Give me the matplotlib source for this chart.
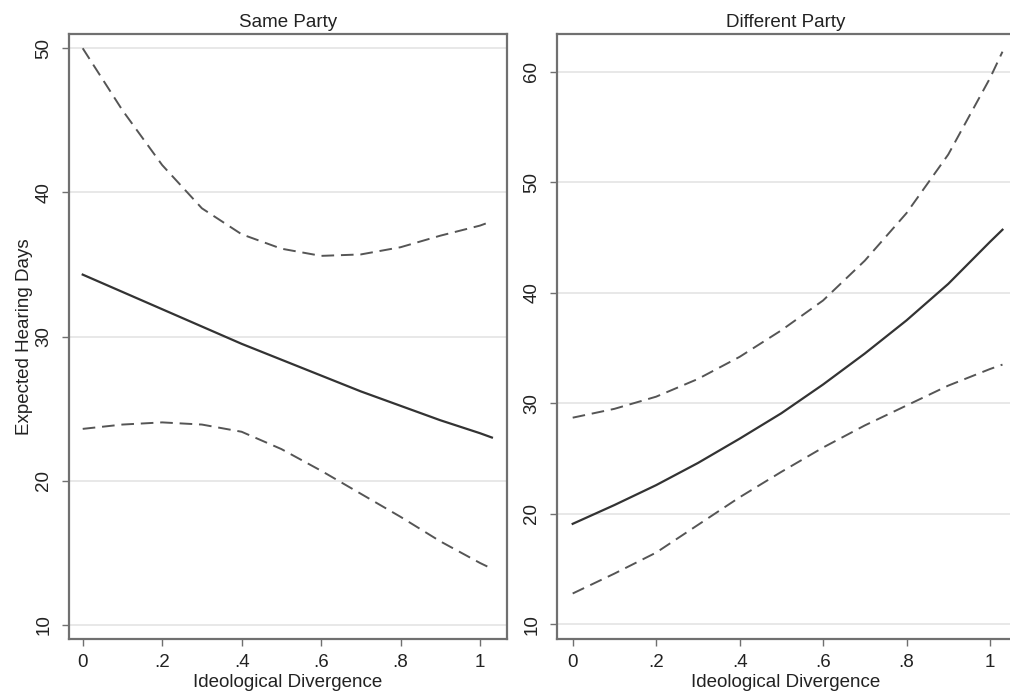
import matplotlib
matplotlib.use('Agg')
import matplotlib.pyplot as plt

# Ideological divergence grid and values
div = [0, 0.1, 0.2, 0.3, 0.4, 0.5, 0.6, 0.7, 0.8, 0.9, 1.0, 1.03]

same_est = [34.3, 33.1, 31.9, 30.7, 29.5, 28.4, 27.3, 26.2, 25.2, 24.2, 23.3, 23.0]
same_hi = [50.0, 45.7, 41.9, 38.9, 37.1, 36.1, 35.6, 35.7, 36.2, 37.0, 37.7, 38.0]
same_lo = [23.6, 23.9, 24.05, 23.9, 23.4, 22.2, 20.7, 19.1, 17.5, 15.8, 14.3, 13.9]

diff_est = [19.1, 20.8, 22.6, 24.6, 26.8, 29.1, 31.7, 34.5, 37.5, 40.8, 44.6, 45.7]
diff_hi = [28.7, 29.5, 30.6, 32.2, 34.2, 36.6, 39.3, 42.9, 47.2, 52.5, 59.4, 61.8]
diff_lo = [12.8, 14.6, 16.5, 19.0, 21.5, 23.8, 26.0, 28.0, 29.8, 31.6, 33.1, 33.5]

xticks = [0, 0.2, 0.4, 0.6, 0.8, 1.0]
xticklabels = ['0', '.2', '.4', '.6', '.8', '1']
same_yticks = [10, 20, 30, 40, 50]
diff_yticks = [10, 20, 30, 40, 50, 60]

plt.rcParams['font.family'] = ['Liberation Sans', 'DejaVu Sans']

fig = plt.figure(figsize=(10.10, 6.98), dpi=100)
ax1 = fig.add_axes([69/1010, 59.5/698, 438/1010, 604.5/698])
ax2 = fig.add_axes([557/1010, 59.5/698, 458/1010, 604.5/698])

spine_col = '#707070'
grid_col = '#e6e6e6'
fs = 13.5


def style(ax, yticks):
    ax.set_xticks(xticks)
    ax.set_xticklabels(xticklabels)
    ax.set_yticks(yticks)
    ax.set_yticklabels([str(t) for t in yticks], rotation=90, va='center')
    ax.yaxis.grid(True, color=grid_col, linewidth=1.3)
    ax.set_axisbelow(True)
    for s in ax.spines.values():
        s.set_color(spine_col)
        s.set_linewidth(1.6)
    ax.tick_params(colors=spine_col, labelcolor='#222222', labelsize=fs,
                   length=5, width=1.0, direction='out')
    ax.tick_params(axis='y', pad=7)
    ax.tick_params(axis='x', pad=6)
    ax.set_xlabel('Ideological Divergence', fontsize=fs, color='#222222', labelpad=2)


# Same party panel
ax1.plot(div, same_est, color='#333333', linewidth=1.6)
ax1.plot(div, same_hi, color='#555555', linewidth=1.4, dashes=(6.5, 3.5))
ax1.plot(div, same_lo, color='#555555', linewidth=1.4, dashes=(6.5, 3.5))
ax1.set_xlim(-0.0345, 1.068)
ax1.set_ylim(9.06, 50.99)
style(ax1, same_yticks)
ax1.set_ylabel('Expected Hearing Days', fontsize=fs, color='#222222', labelpad=2)
ax1.set_title('Same Party', fontsize=fs, color='#222222', pad=5)

# Different party panel
ax2.plot(div, diff_est, color='#333333', linewidth=1.6)
ax2.plot(div, diff_hi, color='#555555', linewidth=1.4, dashes=(6.5, 3.5))
ax2.plot(div, diff_lo, color='#555555', linewidth=1.4, dashes=(6.5, 3.5))
ax2.set_xlim(-0.0376, 1.06)
ax2.set_ylim(8.73, 63.4)
style(ax2, diff_yticks)
ax2.set_title('Different Party', fontsize=fs, color='#222222', pad=5)

fig.savefig('out.png', dpi=100)
